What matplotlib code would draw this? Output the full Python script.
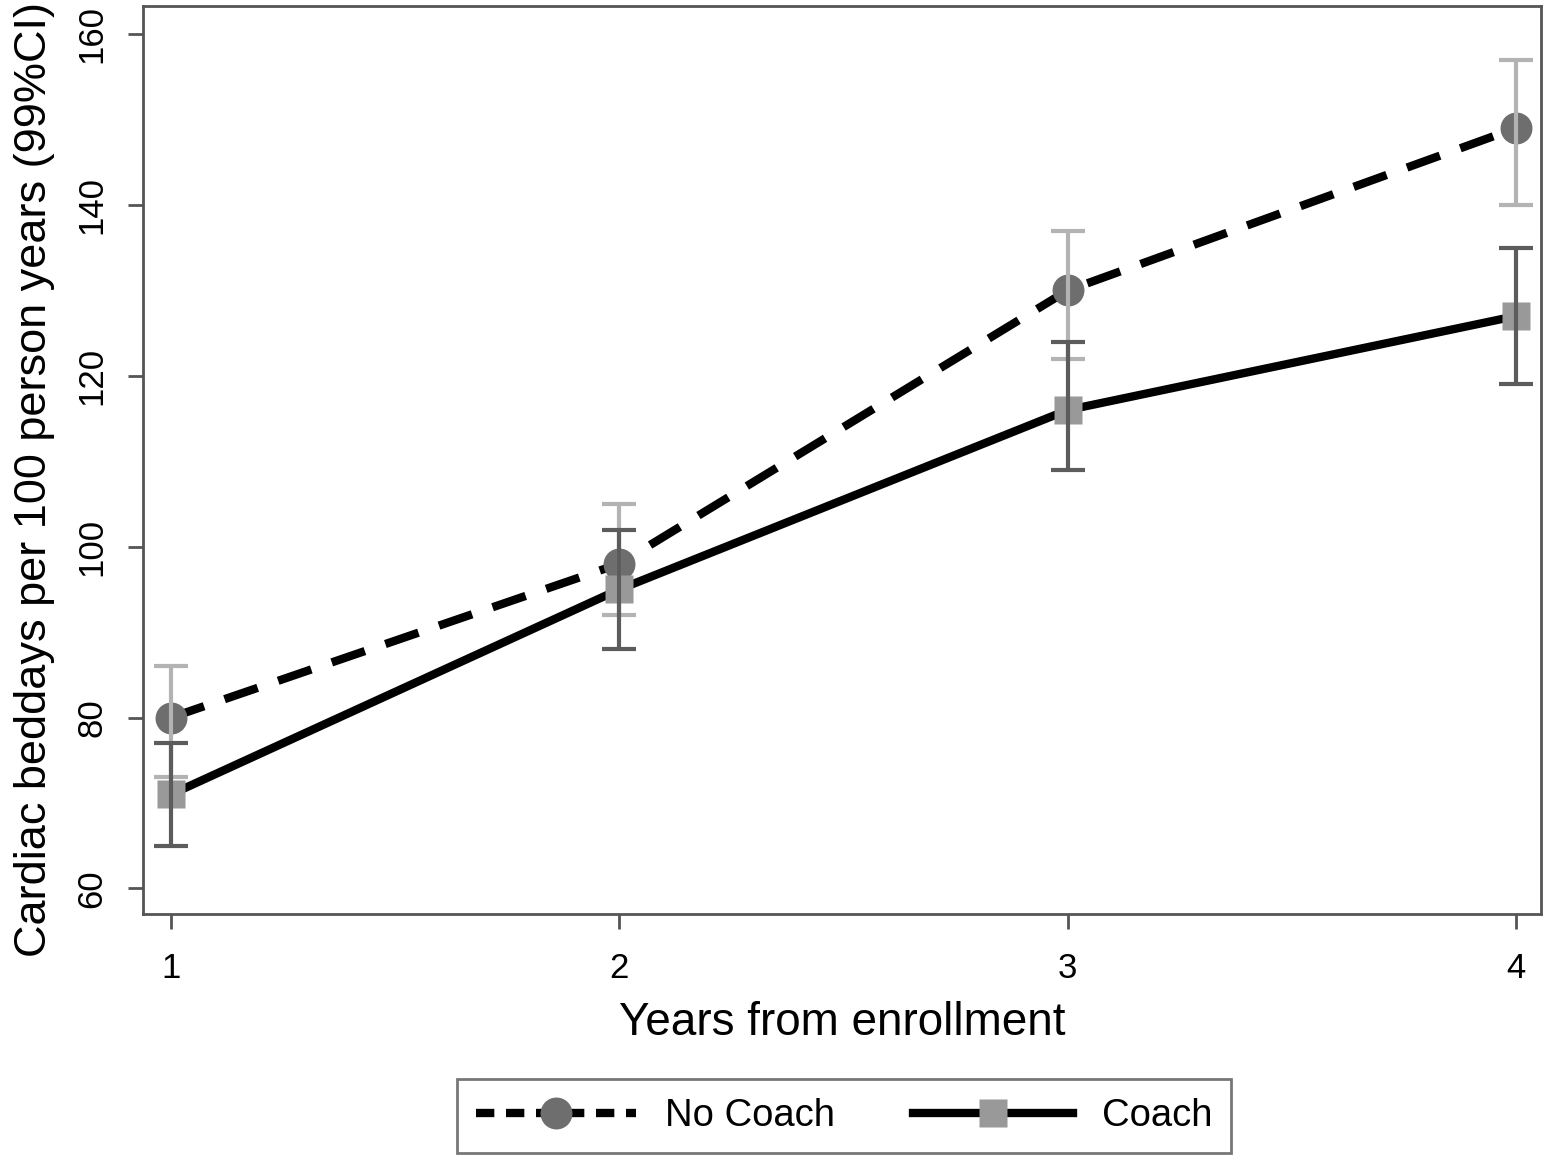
import numpy as np
import matplotlib.pyplot as plt
from matplotlib.lines import Line2D

plt.rcParams['font.family'] = ['Liberation Sans', 'DejaVu Sans']

# ---- data ----
years = np.array([1, 2, 3, 4])
nocoach = np.array([80, 98, 130, 149])
nocoach_lo = np.array([73, 92, 122, 140])
nocoach_hi = np.array([86, 105, 137, 157])
coach = np.array([71, 95, 116, 127])
coach_lo = np.array([65, 88, 109, 119])
coach_hi = np.array([77, 102, 124, 135])

fig = plt.figure(figsize=(15.47, 11.57), dpi=100)
ax = fig.add_axes([0.0924, 0.21, 0.9037, 0.7848])

# lines
ax.plot(years, nocoach, color='black', lw=6, ls=(0, (4.2, 2.6)), zorder=2)
ax.plot(years, coach, color='black', lw=6, ls='-', zorder=2)
# markers
ax.plot(years, nocoach, 'o', color='#6e6e6e', ms=23, mec='none', zorder=3)
ax.plot(years, coach, 's', color='#999999', ms=20, mec='none', zorder=3)
# CIs
ax.errorbar(years, nocoach, yerr=[nocoach - nocoach_lo, nocoach_hi - nocoach],
            fmt='none', ecolor='#b3b3b3', elinewidth=3, capsize=12, capthick=3, zorder=4)
ax.errorbar(years, coach, yerr=[coach - coach_lo, coach_hi - coach],
            fmt='none', ecolor='#5c5c5c', elinewidth=3, capsize=12, capthick=3, zorder=5)

ax.set_xlim(0.9375, 4.056)
ax.set_ylim(57, 163.3)
ax.set_xticks(years)
ax.set_yticks([60, 80, 100, 120, 140, 160])
ax.tick_params(axis='both', direction='out', length=11, width=2, color='#555555',
               labelsize=25)
ax.tick_params(axis='x', pad=16)
ax.tick_params(axis='y', pad=14)
for lab in ax.get_yticklabels():
    lab.set_rotation(90)
    lab.set_va('center')
for s in ax.spines.values():
    s.set_color('#555555')
    s.set_linewidth(2)

ax.set_xlabel('Years from enrollment', fontsize=33, labelpad=12)
ax.set_ylabel('Cardiac beddays per 100 person years (99%CI)', fontsize=32.5)
ax.yaxis.set_label_coords(-0.063, 0.478)

handles = [
    Line2D([], [], color='black', lw=6, ls=(0, (2.2, 1.4)), marker='o',
           ms=23, mfc='#6e6e6e', mec='none'),
    Line2D([], [], color='black', lw=6, ls='-', marker='s',
           ms=20, mfc='#999999', mec='none'),
]
leg = fig.legend(handles, ['No Coach', 'Coach'], loc='lower center',
                 bbox_to_anchor=(0.5456, 0.0), ncol=2, fontsize=27.5, frameon=True,
                 fancybox=False, edgecolor='#555555', handlelength=4.2,
                 handletextpad=0.74, columnspacing=2.05, borderpad=0.5,
                 borderaxespad=0.1)
leg.get_frame().set_linewidth(2)

fig.savefig('out.png', dpi=100)
